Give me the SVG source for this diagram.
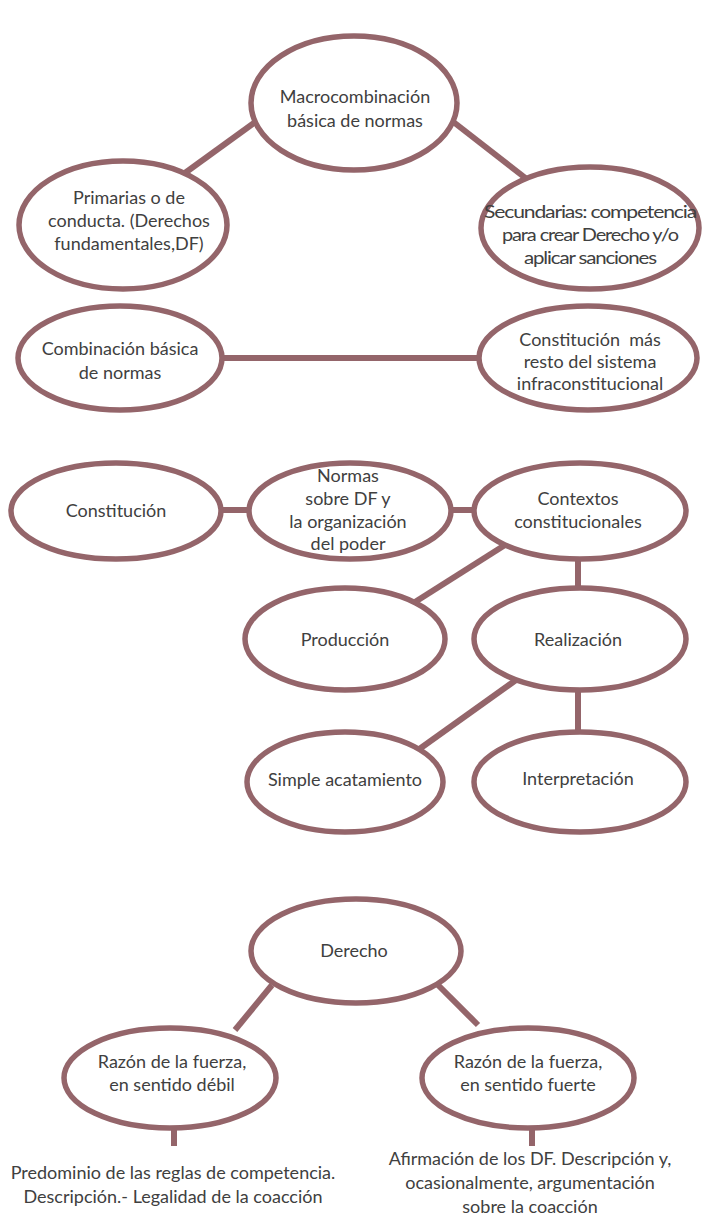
<svg xmlns="http://www.w3.org/2000/svg" width="705" height="1228" viewBox="0 0 705 1228">
<style>
.n{fill:#fff;stroke:#94656a;stroke-width:5.5}
.c{stroke:#94656a;stroke-width:6;fill:none}
text{font-family:Lato,"Open Sans","Liberation Sans",sans-serif;font-size:18px;fill:#404040;text-anchor:middle}
.cn{letter-spacing:-1px}
</style>
<rect width="705" height="1228" fill="#fff"/>
<g id="connectors">
<line class="c" x1="272" y1="110" x2="178" y2="178"/>
<line class="c" x1="438" y1="110" x2="528" y2="180"/>
<line class="c" x1="222" y1="358" x2="480" y2="358"/>
<line class="c" x1="220" y1="510" x2="250" y2="510"/>
<line class="c" x1="450" y1="510" x2="476" y2="510"/>
<line class="c" x1="505" y1="545" x2="415" y2="602"/>
<line class="c" x1="578" y1="558" x2="578" y2="586"/>
<line class="c" x1="516" y1="680" x2="418" y2="750"/>
<line class="c" x1="578" y1="688" x2="578" y2="732"/>
<line class="c" x1="272" y1="985" x2="235" y2="1030"/>
<line class="c" x1="438" y1="985" x2="478" y2="1025"/>
<line class="c" x1="174" y1="1128" x2="174" y2="1146"/>
<line class="c" x1="532" y1="1128" x2="532" y2="1146"/>
</g>
<g id="n1"><ellipse class="n" cx="354" cy="103" rx="103" ry="67"/><text x="355" y="103">Macrocombinación</text><text x="355" y="127">básica de normas</text></g>
<g id="n2"><ellipse class="n" cx="123" cy="225" rx="104" ry="64"/><text x="129" y="204">Primarias o de</text><text x="129" y="227">conducta. (Derechos</text><text x="129" y="250">fundamentales,DF)</text></g>
<g id="n3"><ellipse class="n" cx="590" cy="228" rx="109" ry="61"/><text class="cn" x="590" y="218" textLength="212" lengthAdjust="spacingAndGlyphs">Secundarias: competencia</text><text class="cn" x="590" y="241" textLength="176" lengthAdjust="spacingAndGlyphs">para crear Derecho y/o</text><text class="cn" x="590" y="264" textLength="132" lengthAdjust="spacingAndGlyphs">aplicar sanciones</text></g>
<g id="n4"><ellipse class="n" cx="120" cy="358" rx="102" ry="52"/><text x="120" y="355">Combinación básica</text><text x="120" y="379">de normas</text></g>
<g id="n5"><ellipse class="n" cx="588" cy="358" rx="109" ry="52"/><text x="590" y="346">Constitución&#160; más</text><text x="590" y="368">resto del sistema</text><text x="590" y="390">infraconstitucional</text></g>
<g id="n6"><ellipse class="n" cx="116" cy="511" rx="105" ry="48"/><text x="116" y="517">Constitución</text></g>
<g id="n7"><ellipse class="n" cx="350" cy="511" rx="101" ry="48"/><text x="348" y="482">Normas</text><text x="348" y="505">sobre DF y</text><text x="348" y="528">la organización</text><text x="348" y="550">del poder</text></g>
<g id="n8"><ellipse class="n" cx="580" cy="511" rx="106" ry="48"/><text x="578" y="505">Contextos</text><text x="578" y="528">constitucionales</text></g>
<g id="n9"><ellipse class="n" cx="345" cy="639" rx="100" ry="51"/><text x="345" y="646">Producción</text></g>
<g id="n10"><ellipse class="n" cx="580" cy="639" rx="106" ry="51"/><text x="578" y="646">Realización</text></g>
<g id="n11"><ellipse class="n" cx="345" cy="782" rx="98" ry="50"/><text x="345" y="786">Simple acatamiento</text></g>
<g id="n12"><ellipse class="n" cx="580" cy="782" rx="106" ry="50"/><text x="578" y="785">Interpretación</text></g>
<g id="n13"><ellipse class="n" cx="356" cy="951" rx="105" ry="52"/><text x="354" y="957">Derecho</text></g>
<g id="n14"><ellipse class="n" cx="170" cy="1078" rx="106" ry="50"/><text x="172" y="1068">Razón de la fuerza,</text><text x="172" y="1091">en sentido débil</text></g>
<g id="n15"><ellipse class="n" cx="528" cy="1078" rx="106" ry="50"/><text x="528" y="1068">Razón de la fuerza,</text><text x="528" y="1091">en sentido fuerte</text></g>
<g id="n16"><text x="173" y="1179">Predominio de las reglas de competencia.</text><text x="173" y="1203">Descripción.- Legalidad de la coacción</text></g>
<g id="n17"><text x="530" y="1165">Afirmación de los DF. Descripción y,</text><text x="530" y="1189">ocasionalmente, argumentación</text><text x="530" y="1213">sobre la coacción</text></g>
</svg>
